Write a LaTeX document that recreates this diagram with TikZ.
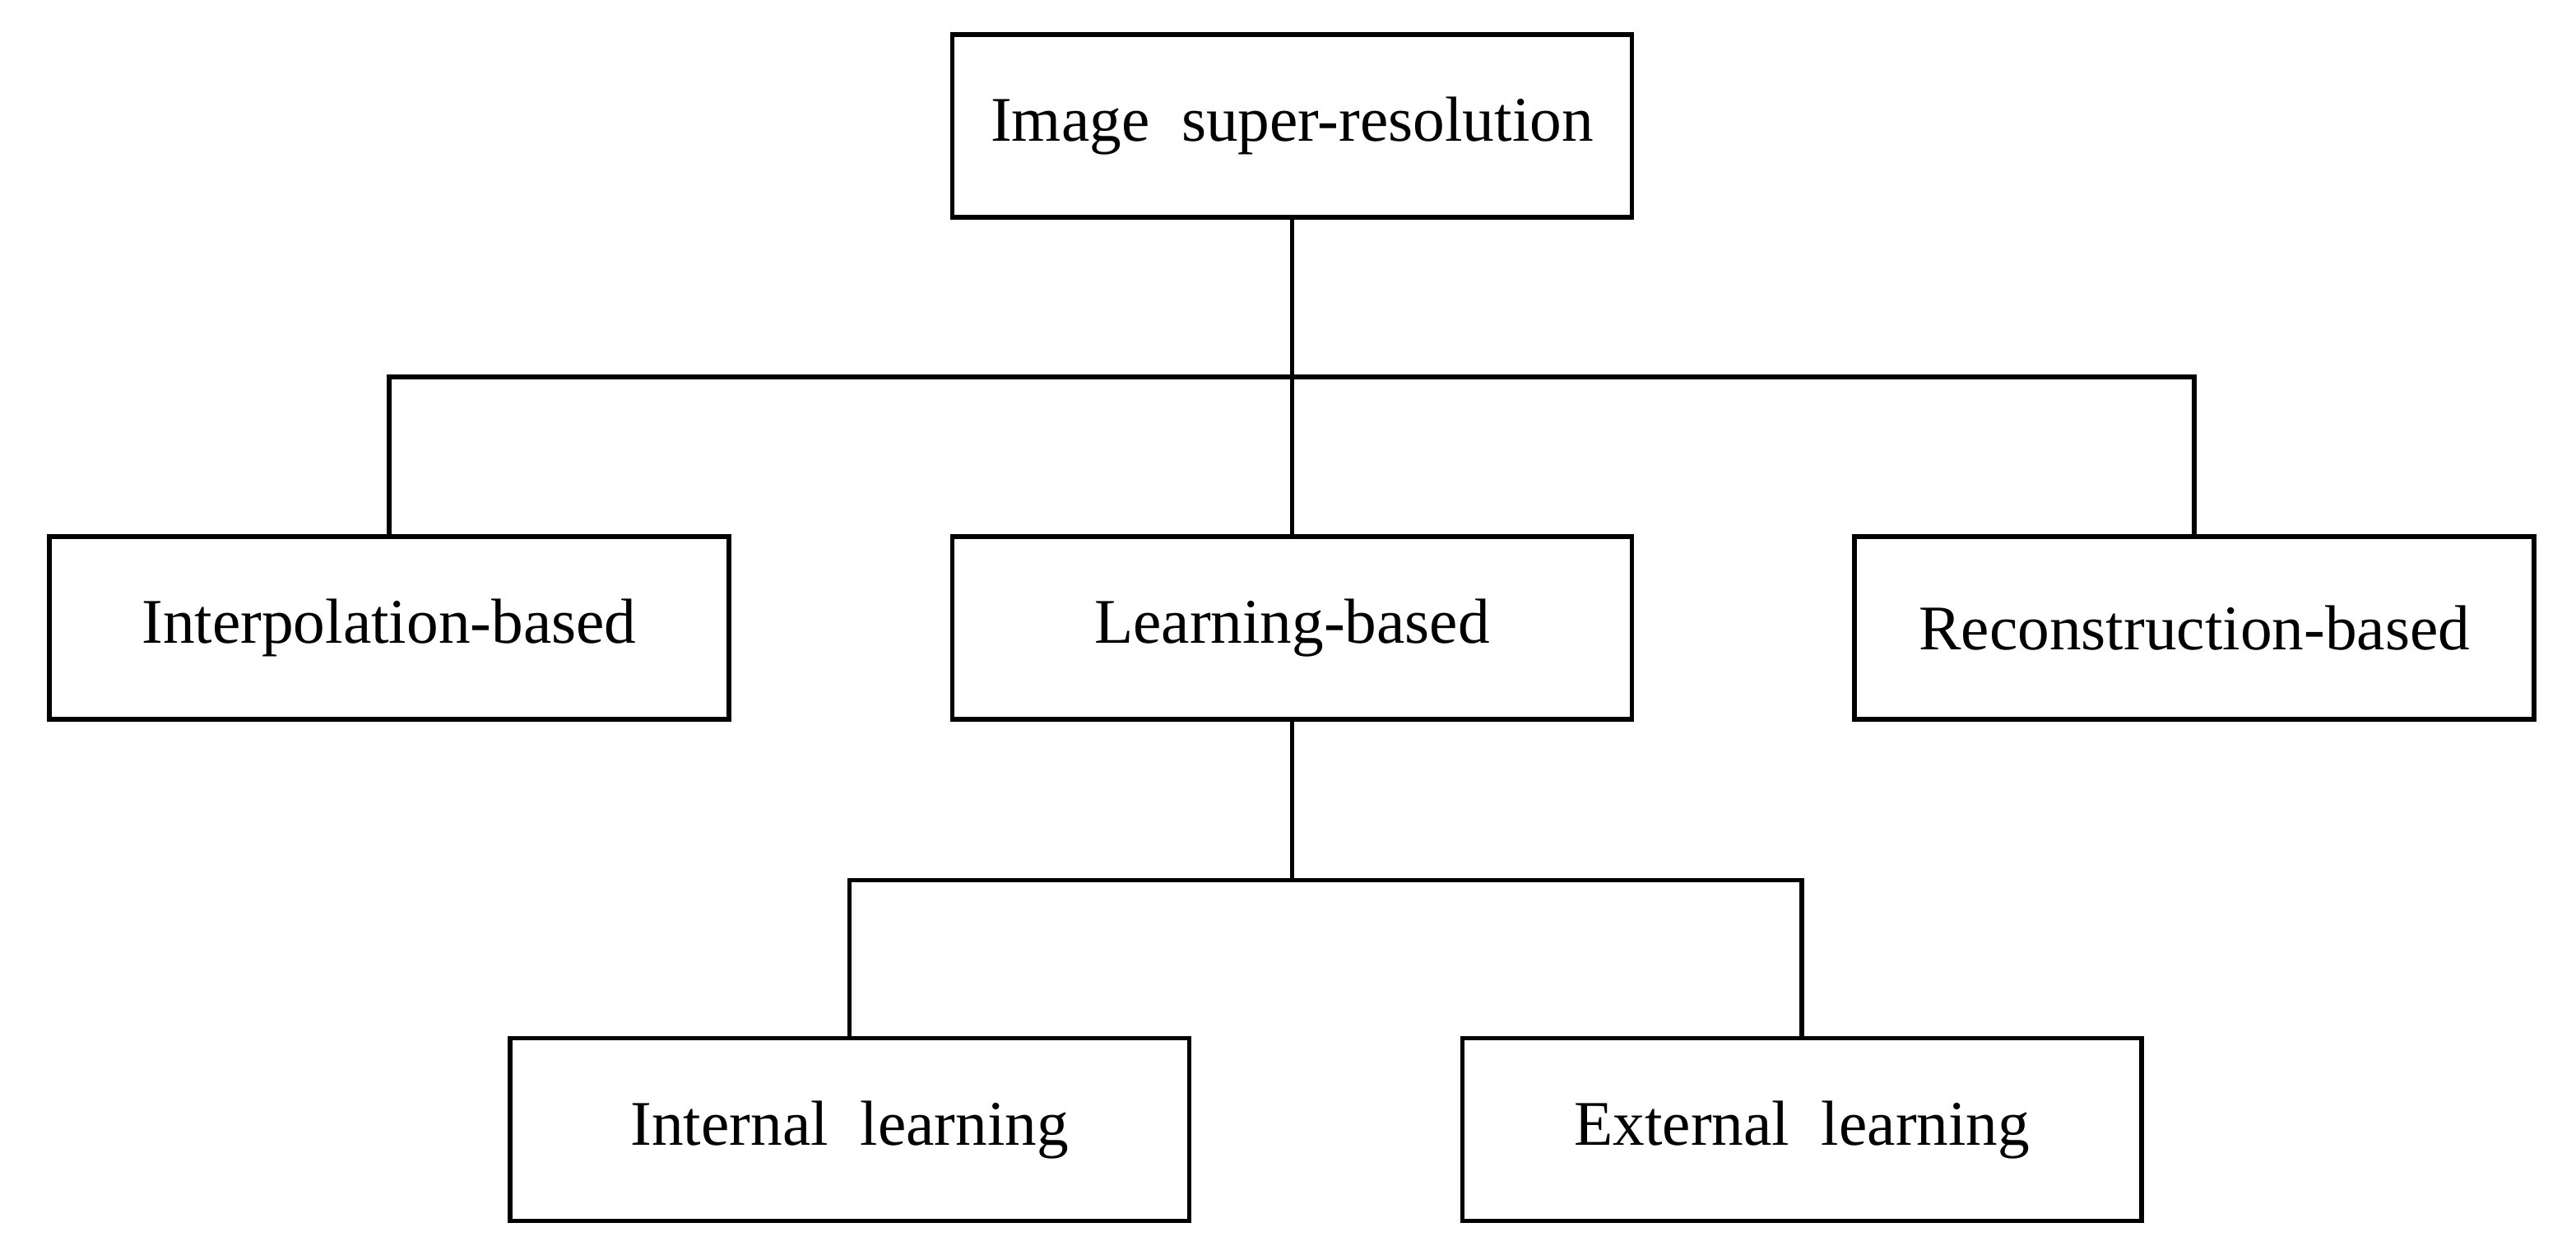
\documentclass[tikz,border=0pt]{standalone}
\usepackage{fontspec}
\setmainfont{Liberation Serif}
\usetikzlibrary{positioning}
\begin{document}
\begin{tikzpicture}[
    box/.style={draw, thick, minimum width=4.13cm, minimum height=1.11cm, font=\fontsize{11}{13}\selectfont}
]
    \useasboundingbox (0,0) rectangle (15.66,-7.57);
    \node[box] (SR) at (7.855,-0.765) {Image\ \ super-resolution};

    \node[box] (Interp) at (2.365,-3.815) {Interpolation-based};
    \node[box] (Learn) at (7.855,-3.815) {Learning-based};
    \node[box] (Recon) at (13.34,-3.815) {Reconstruction-based};

    \node[box] (Int) at (5.165,-6.865) {Internal\ \ learning};
    \node[box] (Ext) at (10.955,-6.865) {External\ \ learning};

    \coordinate (J1) at (7.855,-2.29);
    \coordinate (J2) at (7.855,-5.35);

    \draw[thick] (SR) -- (J1);
    \draw[thick] (J1) -| (Interp);
    \draw[thick] (J1) -- (Learn);
    \draw[thick] (J1) -| (Recon);
    \draw[thick] (Learn) -- (J2);
    \draw[thick] (J2) -| (Int);
    \draw[thick] (J2) -| (Ext);
\end{tikzpicture}
\end{document}
